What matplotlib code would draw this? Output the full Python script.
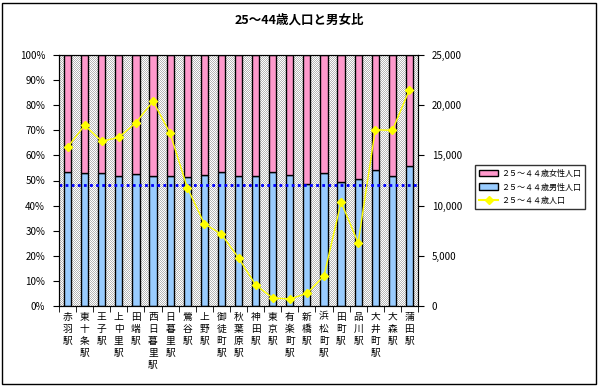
import numpy as np
import matplotlib.pyplot as plt
from matplotlib.patches import Rectangle, Patch
from matplotlib.lines import Line2D

plt.rcParams['font.family'] = ['Noto Sans CJK JP', 'DejaVu Sans']

# data
stations = ['赤羽駅', '東十条駅', '王子駅', '上中里駅', '田端駅', '西日暮里駅', '日暮里駅',
            '鶯谷駅', '上野駅', '御徒町駅', '秋葉原駅', '神田駅', '東京駅', '有楽町駅',
            '新橋駅', '浜松町駅', '田町駅', '品川駅', '大井町駅', '大森駅', '蒲田駅']
male_pct = [53.3, 52.9, 52.9, 51.7, 52.5, 51.7, 51.7, 51.3, 52.1, 53.3, 51.7,
            51.7, 53.3, 52.1, 48.5, 52.9, 49.3, 50.5, 54.1, 51.7, 55.7]
pop_25_44 = [15800, 18000, 16400, 16800, 18250, 20400, 17200, 11800, 8200, 7150, 4800,
             2100, 800, 700, 1250, 3000, 10350, 6300, 17550, 17500, 21550]
ref_pct = 48.4

female_pct = [100 - m for m in male_pct]
x = np.arange(len(stations))

fig = plt.figure(figsize=(5.99, 3.88), dpi=100)
ax = fig.add_axes([59/599, 1-306/388, 359/599, 251/388])

# checker background (gray / white dots)
checker = np.indices((251, 359)).sum(axis=0) % 2
bg = np.where(checker[..., None] == 1, 1.0, 0.72) * np.ones(3)
ax.imshow(bg, extent=(-0.5, len(x)-0.5, 0, 1), aspect='auto',
          interpolation='nearest', zorder=0)

ax.bar(x, np.array(male_pct)/100, width=0.42, color='#99CCFF', edgecolor='black', lw=1, zorder=2)
ax.bar(x, np.array(female_pct)/100, bottom=np.array(male_pct)/100, width=0.42,
       color='#FF99CC', edgecolor='black', lw=1, zorder=2)
ax.axhline(ref_pct/100, color='#0000FF', lw=2, ls=(0, (1, 1.2)), zorder=3)

ax.set_xlim(-0.5, len(x)-0.5)
ax.set_ylim(0, 1)
ax.set_yticks(np.arange(0, 1.01, 0.1))
ax.set_yticklabels([f'{int(round(v*100))}%' for v in np.arange(0, 1.01, 0.1)], fontsize=7)
ax.set_xticks(x)
ax.set_xticklabels(['\n'.join(s) for s in stations], fontsize=7, linespacing=1.25, va='top')
ax.tick_params(axis='x', length=0, pad=4)
ax.set_xticks(np.arange(-0.5, len(x)), minor=True)
ax.tick_params(axis='x', which='minor', length=4, direction='out')
ax.tick_params(axis='y', length=4, direction='out', pad=6)

ax2 = ax.twinx()
ax2.plot(x, pop_25_44, color='#FFFF00', lw=1, marker='D', ms=4, zorder=4)
ax2.set_ylim(0, 25000)
ax2.set_yticks(np.arange(0, 25001, 5000))
ax2.set_yticklabels([f'{v:,}' for v in range(0, 25001, 5000)], fontsize=7)
ax2.tick_params(axis='y', length=4, direction='out', pad=6)
ax.set_zorder(1)
ax2.set_zorder(2)
ax2.patch.set_visible(False)

fig.text(0.5, 1-20/388, '25～44歳人口と男女比', ha='center', va='center', fontsize=9, fontweight='bold')

handles = [Patch(facecolor='#FF99CC', edgecolor='black'),
           Patch(facecolor='#99CCFF', edgecolor='black'),
           Line2D([], [], color='#FFFF00', marker='D', ms=4)]
labels = ['２５～４４歳女性人口', '２５～４４歳男性人口', '２５～４４歳人口']
leg = fig.legend(handles, labels, loc='center left', bbox_to_anchor=(475/599, 1-187/388),
                 borderaxespad=0, fontsize=5.8, frameon=True, fancybox=False, edgecolor='black',
                 handlelength=2.4, handleheight=0.9, handletextpad=0.3, borderpad=0.5,
                 labelspacing=0.6)
leg.get_frame().set_linewidth(1)

fig.patches.append(Rectangle((2/599, 4/388), 594/599, 381/388, transform=fig.transFigure,
                             fill=False, edgecolor='black', lw=1))

fig.savefig('out.png', dpi=100)
